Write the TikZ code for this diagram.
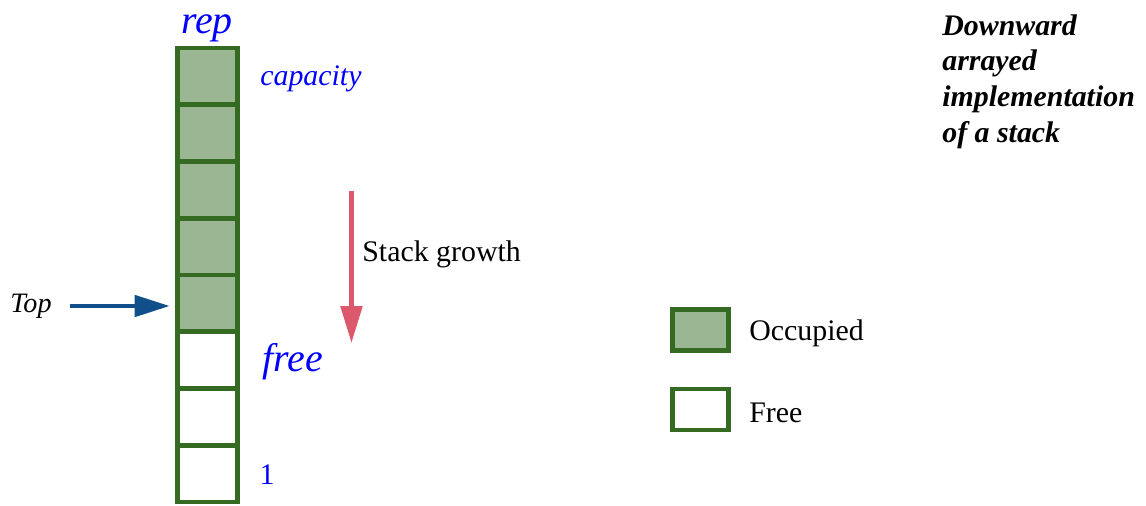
\documentclass[tikz,border=0pt]{standalone}
\usepackage{fontspec}
\setmainfont{Liberation Serif}
\usepackage{tikz}
\usepackage{xcolor}
\usetikzlibrary{arrows.meta}
\usetikzlibrary{positioning}

\definecolor{cellborder}{RGB}{52,106,34}
\definecolor{cellfill}{RGB}{155,182,146}
\definecolor{topblue}{RGB}{16,79,138}
\definecolor{growred}{RGB}{220,88,108}

\tikzset{
  cell/.style={draw=cellborder, line width=2.8pt, rectangle, minimum width=1.2cm, minimum height=1.135cm, inner sep=0pt},
  used/.style={cell, fill=cellfill},
  legendbox/.style={draw=cellborder, line width=2.8pt, rectangle, minimum width=1.12cm, minimum height=0.82cm, inner sep=0pt},
  txt/.style={font=\fontsize{17}{20.4}\selectfont, inner sep=0pt},
  blab/.style={txt, text=blue, font=\fontsize{17}{20.4}\selectfont\itshape},
  big/.style={txt, text=blue, font=\fontsize{22.7}{27}\selectfont\itshape}
}

\begin{document}
\begin{tikzpicture}[x=0.02cm, y=-0.02cm]
\useasboundingbox (0,0) rectangle (1146,505);

% Array cells (nodes)
\foreach \k in {1,...,8} {
  \ifnum\k<6
    \node[used] (c\k) at (207.5, 48+56.75*\k-28.375) {};
  \else
    \node[cell] (c\k) at (207.5, 48+56.75*\k-28.375) {};
  \fi
}

% Labels of the array
\node[big] (rep) at (207,28) {rep};
\node[blab, anchor=west] (cap) at (260,79) {capacity};
\node[big, anchor=west] (free) at (262,362) {free};
\node[txt, text=blue] (one) at (267,475) {1};

% Top pointer
\node[txt, font=\fontsize{16}{19}\selectfont\itshape] (top) at (31,306) {Top};
\coordinate (topend) at (c5.west |- 0,306);
\draw[-{Triangle[length=20pt, width=12pt]}, topblue, line width=2.6pt, shorten <=10pt, shorten >=3pt] (top.east) -- (topend);

% Growth direction
\coordinate (gtop) at (351.5,191);
\coordinate (gbot) at (351.5,343);
\draw[-{Triangle[length=21pt, width=12pt]}, growred, line width=2.8pt] (gtop) -- (gbot);
\node[txt, anchor=west] (grow) at (362,254) {Stack growth};

% Legend
\node[legendbox, fill=cellfill] (occ) at (700.5,330) {};
\node[txt, anchor=west, right=0.36cm of occ, yshift=-2pt] (occtxt) {Occupied};
\node[legendbox] (fre) at (700.5,409.5) {};
\node[txt, anchor=west, right=0.36cm of fre, yshift=-2pt] (fretxt) {Free};

% Title
\node[txt, anchor=north west, align=left, font=\fontsize{17}{20.4}\selectfont\bfseries\itshape] (title) at (942,14)
  {Downward\\arrayed\\implementation\\of a stack};
\end{tikzpicture}
\end{document}
